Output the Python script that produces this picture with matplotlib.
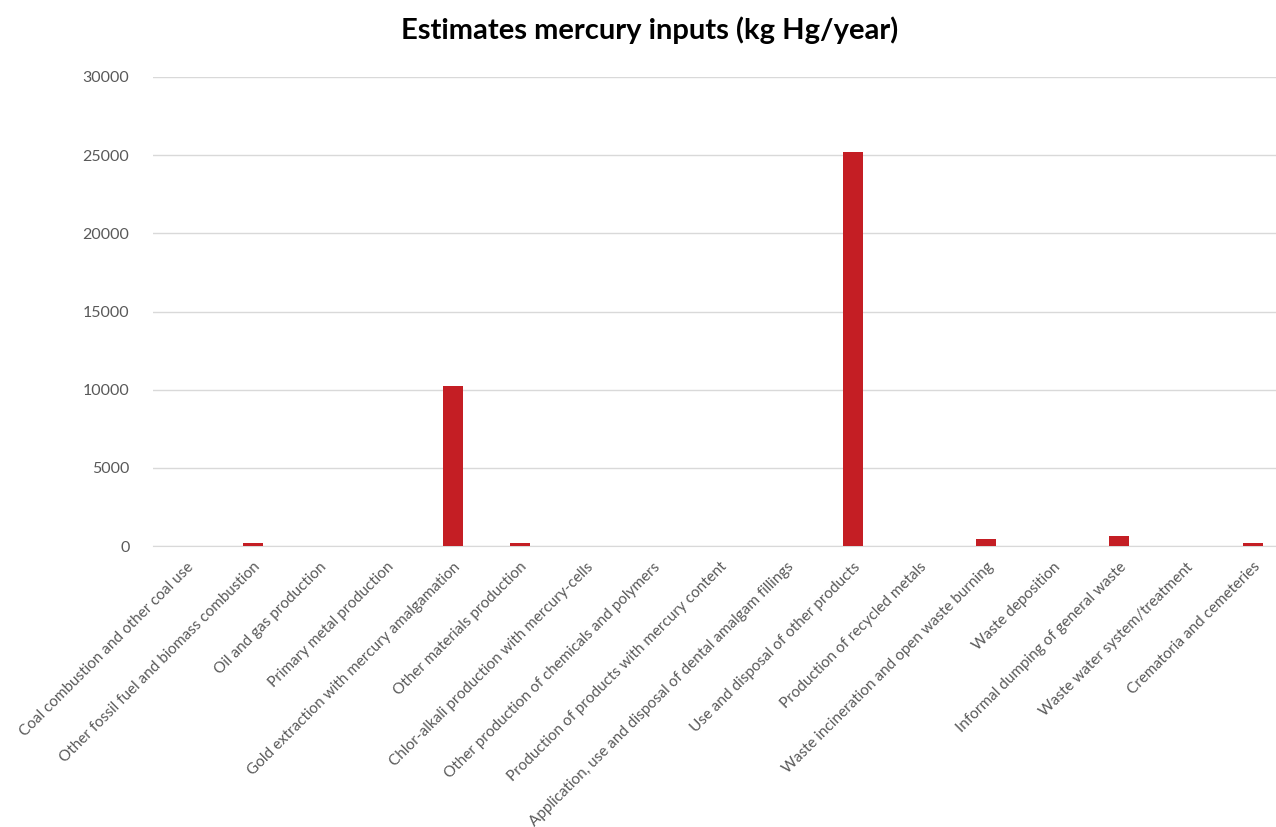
import matplotlib.pyplot as plt

categories = [
    "Coal combustion and other coal use",
    "Other fossil fuel and biomass combustion",
    "Oil and gas production",
    "Primary metal production",
    "Gold extraction with mercury amalgamation",
    "Other materials production",
    "Chlor-alkali production with mercury-cells",
    "Other production of chemicals and polymers",
    "Production of products with mercury content",
    "Application, use and disposal of dental amalgam fillings",
    "Use and disposal of other products",
    "Production of recycled metals",
    "Waste incineration and open waste burning",
    "Waste deposition",
    "Informal dumping of general waste",
    "Waste water system/treatment",
    "Crematoria and cemeteries",
]
inputs_kg = [0, 200, 0, 0, 10250, 200, 0, 0, 0, 0, 25200, 0, 450, 0, 620, 0, 190]
yticks = [0, 5000, 10000, 15000, 20000, 25000, 30000]

plt.rcParams['font.family'] = ['Lato', 'DejaVu Sans']

fig = plt.figure(figsize=(12.76, 8.27), dpi=100)
ax = fig.add_axes([153 / 1276, 281 / 827, 1133 / 1276, 469 / 827])

x = range(len(categories))
ax.bar(x, inputs_kg, width=0.3, color='#c41e24', zorder=3)

ax.set_xlim(-0.5, len(categories) - 0.5)
ax.set_ylim(0, 30000)
ax.set_yticks(yticks)
ax.set_yticklabels([str(v) for v in yticks], fontsize=11.5, color='#595959')
ax.set_xticks(list(x))
ax.set_xticklabels(categories, rotation=45, ha='right', rotation_mode='anchor',
                   fontsize=11, color='#595959')
ax.tick_params(axis='both', length=0)
ax.tick_params(axis='y', pad=17)
ax.tick_params(axis='x', pad=10)

ax.grid(axis='y', color='#d9d9d9', linewidth=1, zorder=0)
for side in ['top', 'right', 'left']:
    ax.spines[side].set_visible(False)
ax.spines['bottom'].set_color('#d9d9d9')

fig.text(650 / 1276, 1 - 30 / 827, "Estimates mercury inputs (kg Hg/year)",
         ha='center', va='center', fontsize=21, fontweight='bold', color='black')

fig.savefig('out.png', dpi=100)
